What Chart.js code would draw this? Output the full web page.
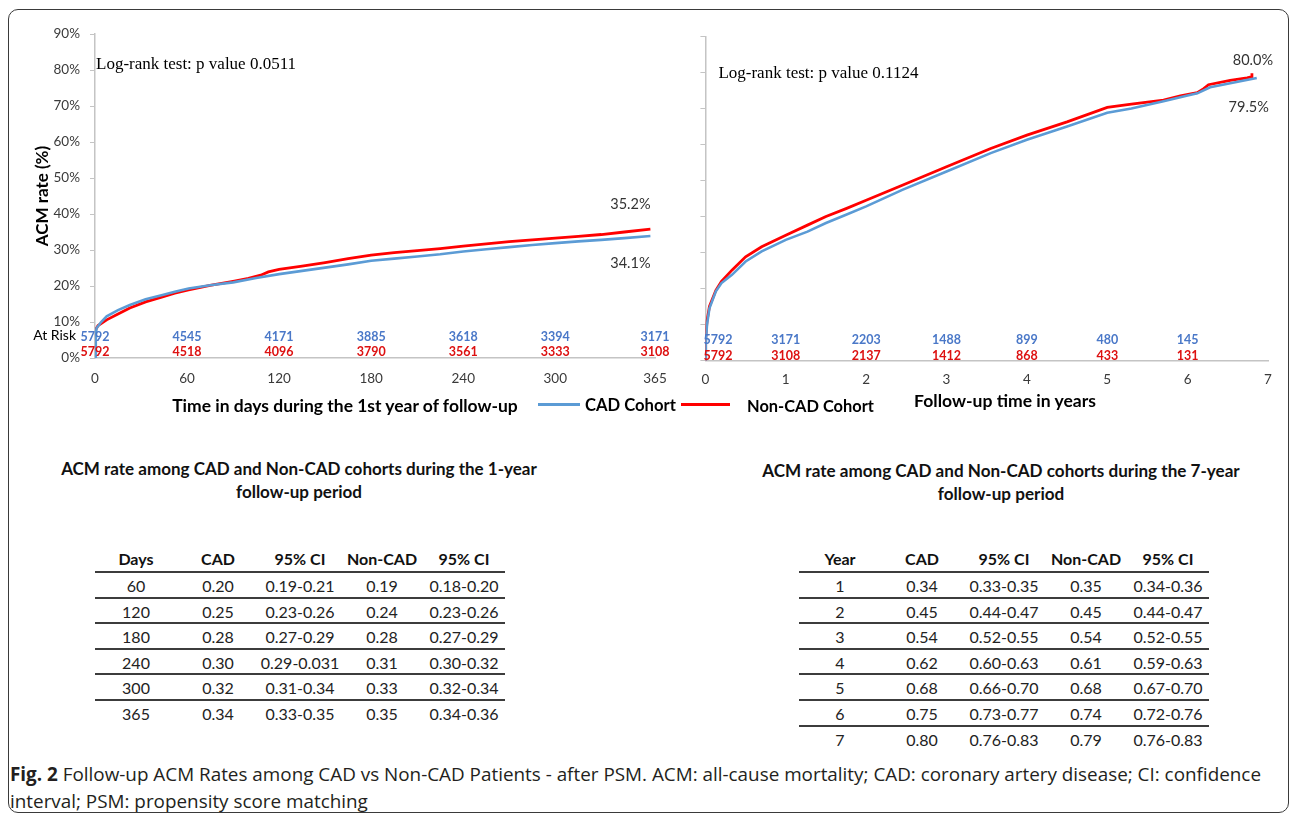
<!DOCTYPE html>
<html><head><meta charset="utf-8">
<script src="https://cdn.jsdelivr.net/npm/chart.js@4.4.0/dist/chart.umd.min.js"></script>
<style>
html,body{margin:0;padding:0;background:#fff;}
body{width:1296px;height:816px;position:relative;overflow:hidden;font-family:Lato,sans-serif;color:#111;}
.abs{position:absolute;white-space:nowrap;}
.c{transform:translate(-50%,-50%);}
.l{transform:translateY(-50%);}
#frame{position:absolute;left:8px;top:9px;width:1281px;height:804px;box-sizing:border-box;border:1.5px solid #3a3a3a;border-radius:10px;pointer-events:none;}
canvas{position:absolute;top:0;}
table{position:absolute;border-collapse:separate;border-spacing:0;font-family:Lato,sans-serif;font-size:16px;color:#222;table-layout:fixed;}
td,th{padding:0;text-align:center;width:82px;white-space:nowrap;}
th{height:24px;line-height:24px;font-weight:700;color:#111;border-bottom:2px solid #3c3c3c;}
td{height:21.6px;line-height:21.6px;padding-top:2px;}
tr.sep td{border-bottom:2px solid #3c3c3c;}
.bold{font-weight:700;}
.ttl{font-weight:700;font-size:16px;color:#111;}
#cap1,#cap2{font-family:"Open Sans",sans-serif;font-size:17px;color:#231f20;}
</style></head>
<body>
<canvas id="c1" width="690" height="420" style="left:0px"></canvas>
<canvas id="c2" width="606" height="420" style="left:690px"></canvas>

<div class="abs c bold" id="xt1" style="left:345px;top:405px;font-size:16px;color:#000">Time in days during the 1st year of follow-up</div>
<div class="abs" style="left:538px;top:403px;width:42px;height:3px;background:#5B9BD5"></div>
<div class="abs l bold" id="lg1" style="left:585px;top:405px;font-size:16.5px;color:#000">CAD Cohort</div>
<div class="abs" style="left:681px;top:403px;width:49px;height:3px;background:#FF0000"></div>
<div class="abs l bold" id="lg2" style="left:747px;top:405px;font-size:16.5px;color:#000">Non-CAD Cohort</div>
<div class="abs c bold" id="xt2" style="left:1005px;top:400px;font-size:16px;color:#000">Follow-up time in years</div>

<div class="abs c ttl" id="t1a" style="left:299px;top:468px">ACM rate among CAD and Non-CAD cohorts during the 1-year</div>
<div class="abs c ttl" id="t1b" style="left:299px;top:491px">follow-up period</div>
<div class="abs c ttl" id="t2a" style="left:1001px;top:470px">ACM rate among CAD and Non-CAD cohorts during the 7-year</div>
<div class="abs c ttl" id="t2b" style="left:1001px;top:493px">follow-up period</div>

<table id="tab1" style="left:95px;top:547px;width:410px"></table>
<table id="tab2" style="left:799px;top:547px;width:410px"></table>

<div class="abs l" id="cap1" style="left:10px;top:774px"><b>Fig. 2</b> Follow-up ACM Rates among CAD vs Non-CAD Patients - after PSM. ACM: all-cause mortality; CAD: coronary artery disease; CI: confidence</div>
<div class="abs l" id="cap2" style="left:10px;top:801px">interval; PSM: propensity score matching</div>

<div id="frame"></div>

<script>
// ---------- 1-year follow-up curves (days, ACM %) ----------
const cadDays      = [0,0.5,1,4,7.6,15,22.7,33,44,52,61,75,90,105,120,135,150,165,180,195,210,225,240,255,270,285,300,315,330,345,362];
const cadRate1y    = [0,6,8.3,10,11.6,13.3,14.7,16.3,17.5,18.4,19.3,20.2,21,22.2,23.3,24.2,25.1,26,27,27.6,28.2,28.8,29.6,30.2,30.8,31.4,31.9,32.4,32.8,33.3,33.9];
const nonCadDays   = [0,0.3,2,7.6,15,22.7,33,44,52,61,75,90,100,108,113,120,135,150,165,180,195,210,225,240,255,270,285,300,315,330,345,362];
const nonCadRate1y = [0,7.8,9,10.6,12.2,13.9,15.6,17,18,18.9,20.2,21.3,22.1,23,23.9,24.6,25.5,26.5,27.6,28.6,29.3,29.8,30.4,31.1,31.7,32.3,32.8,33.3,33.8,34.3,35,35.8];

// ---------- 7-year follow-up curves (years, ACM %) ----------
const cadYears     = [0,0.005,0.02,0.05,0.13,0.2,0.33,0.5,0.7,1.0,1.27,1.5,1.75,2.0,2.45,3.0,3.55,4.0,4.5,5.0,5.3,5.7,6.0,6.12,6.28,6.53,6.86];
const cadRate7y    = [0,5,10,14.5,19.2,21.5,23.8,27.5,30.3,33.5,35.8,38.2,40.5,42.8,47.4,52.5,57.6,61.3,65,68.8,70,72,73.6,74.2,75.9,77,78.5];
const nonCadYears  = [0,0.003,0.02,0.05,0.13,0.2,0.33,0.5,0.7,1.0,1.27,1.5,1.75,2.0,2.45,3.0,3.55,4.0,4.5,5.0,5.3,5.7,5.91,6.12,6.2,6.26,6.53,6.74,6.79,6.8];
const nonCadRate7y = [0,6,11,15,19.5,22,25.1,28.8,31.6,34.8,37.6,40,42.2,44.5,48.7,53.8,58.9,62.6,66.3,70.3,71.2,72.3,73.5,74.4,75.5,76.6,77.8,78.5,78.8,79.8];

// ---------- axis ticks and at-risk numbers ----------
const dayTicks       = [0,60,120,180,240,300,365];
const cadAtRisk1y    = [5792,4545,4171,3885,3618,3394,3171];
const nonCadAtRisk1y = [5792,4518,4096,3790,3561,3333,3108];
const yearTicks      = [0,1,2,3,4,5,6,7];
const riskYears      = [0,1,2,3,4,5,6];
const cadAtRisk7y    = [5792,3171,2203,1488,899,480,145];
const nonCadAtRisk7y = [5792,3108,2137,1412,868,433,131];
const yTicks         = [0,10,20,30,40,50,60,70,80,90];

// ---------- text annotations ----------
const logRank1y = 'Log-rank test: p value 0.0511';
const logRank7y = 'Log-rank test: p value 0.1124';
const endCad1y = '34.1%', endNonCad1y = '35.2%';
const endCad7y = '79.5%', endNonCad7y = '80.0%';

// ---------- tables ----------
const tab1Head = ['Days','CAD','95% CI','Non-CAD','95% CI'];
const days1    = ['60','120','180','240','300','365'];
const cad1     = ['0.20','0.25','0.28','0.30','0.32','0.34'];
const cadCi1   = ['0.19-0.21','0.23-0.26','0.27-0.29','0.29-0.031','0.31-0.34','0.33-0.35'];
const non1     = ['0.19','0.24','0.28','0.31','0.33','0.35'];
const nonCi1   = ['0.18-0.20','0.23-0.26','0.27-0.29','0.30-0.32','0.32-0.34','0.34-0.36'];
const tab2Head = ['Year','CAD','95% CI','Non-CAD','95% CI'];
const years7   = ['1','2','3','4','5','6','7'];
const cad7     = ['0.34','0.45','0.54','0.62','0.68','0.75','0.80'];
const cadCi7   = ['0.33-0.35','0.44-0.47','0.52-0.55','0.60-0.63','0.66-0.70','0.73-0.77','0.76-0.83'];
const non7     = ['0.35','0.45','0.54','0.61','0.68','0.74','0.79'];
const nonCi7   = ['0.34-0.36','0.44-0.47','0.52-0.55','0.59-0.63','0.67-0.70','0.72-0.76','0.76-0.83'];

function buildTable(id, head, cols){
  let h = '<tr>' + head.map(t=>'<th>'+t+'</th>').join('') + '</tr>';
  const n = cols[0].length;
  for(let i=0;i<n;i++){
    h += '<tr'+(i<n-1?' class="sep"':'')+'>' + cols.map(c=>'<td>'+c[i]+'</td>').join('') + '</tr>';
  }
  document.getElementById(id).innerHTML = h;
}
buildTable('tab1', tab1Head, [days1,cad1,cadCi1,non1,nonCi1]);
buildTable('tab2', tab2Head, [years7,cad7,cadCi7,non7,nonCi7]);

function fitTo(id, w){
  const el = document.getElementById(id);
  const cur = el.getBoundingClientRect().width;
  const fs = parseFloat(getComputedStyle(el).fontSize);
  const nfs = fs*w/cur;
  el.style.fontSize = nfs+'px';
  return nfs;
}
fitTo('xt1',346); fitTo('xt2',182); fitTo('lg1',91); fitTo('lg2',127);
let f = fitTo('t1a',476); document.getElementById('t1b').style.fontSize=f+'px';
f = fitTo('t2a',478); document.getElementById('t2b').style.fontSize=f+'px';
f = fitTo('cap1',1252); document.getElementById('cap2').style.fontSize=f+'px';

const BLUE='#5B9BD5', RED='#FF0000', AXIS='#c4c4c4';

function annot(o){
  return { id:'annot'+o.key, afterDatasetsDraw(chart){
    const {ctx, chartArea:ca, scales:{x,y}} = chart;
    ctx.save();
    ctx.textBaseline='middle';
    ctx.font='17px "Liberation Serif"'; ctx.fillStyle='#000'; ctx.textAlign='left';
    ctx.fillText(o.logRank, ca.left+o.lrDx, y.getPixelForValue(o.lrY));
    ctx.font='bold 12.5px Lato';
    o.riskX.forEach((t,i)=>{
      const px = x.getPixelForValue(t);
      const first = (i===0 && o.firstLeft);
      ctx.textAlign = first ? 'left' : 'center';
      const xx = first ? px-2 : px;
      ctx.fillStyle='#4A78C8'; ctx.fillText(String(o.cadRisk[i]), xx, ca.bottom-o.cadOff);
      ctx.fillStyle='#DD1111'; ctx.fillText(String(o.nonRisk[i]), xx, ca.bottom-o.nonOff);
    });
    ctx.font='14.5px Lato'; ctx.fillStyle='#333'; ctx.textAlign='center';
    const m0 = chart.getDatasetMeta(0).data, m1 = chart.getDatasetMeta(1).data;
    const pb = m0[m0.length-1], pr = m1[m1.length-1];
    ctx.fillText(o.nonEnd, pr.x+o.nonDx, pr.y+o.nonDy);
    ctx.fillText(o.cadEnd, pb.x+o.cadDx, pb.y+o.cadDy);
    if(o.atRisk){
      ctx.font='14px Lato'; ctx.fillStyle='#000'; ctx.textAlign='right';
      ctx.fillText('At Risk', ca.left-19, ca.bottom-23);
    }
    ctx.restore();
  }};
}

function pts(xs, ys){ return xs.map((v,i)=>({x:v, y:ys[i]})); }

function datasets(cx, cy, nx, ny){
  return [
    {label:'CAD Cohort', data:pts(cx,cy), borderColor:BLUE, backgroundColor:BLUE, borderWidth:2.6, pointRadius:0, tension:0},
    {label:'Non-CAD Cohort', data:pts(nx,ny), borderColor:RED, backgroundColor:RED, borderWidth:2.8, pointRadius:0, tension:0}
  ];
}

const tickFont = {family:'Lato', size:13.5};

new Chart(document.getElementById('c1'), {
  type:'line',
  data:{datasets:datasets(cadDays,cadRate1y,nonCadDays,nonCadRate1y)},
  options:{
    responsive:false, animation:false, events:[],
    layout:{padding:{left:0,top:34,right:35,bottom:0}},
    plugins:{legend:{display:false}, tooltip:{enabled:false}},
    scales:{
      x:{type:'linear', min:0, max:365,
         afterBuildTicks:s=>{ s.ticks = dayTicks.map(v=>({value:v})); },
         afterFit:s=>{ s.height = 62; },
         grid:{display:false, drawTicks:false},
         border:{display:true, color:AXIS, width:1.5},
         ticks:{autoSkip:false, maxRotation:0, padding:13, font:tickFont, color:'#3a3a3a'}},
      y:{min:0, max:90,
         afterBuildTicks:s=>{ s.ticks = yTicks.map(v=>({value:v})); },
         afterFit:s=>{ s.width = 95; },
         grid:{display:true, drawOnChartArea:false, drawTicks:true, tickLength:5, color:AXIS},
         border:{display:true, color:AXIS, width:1.5},
         ticks:{padding:10, callback:v=>v+'%', font:tickFont, color:'#3a3a3a'},
         title:{display:true, text:'ACM rate (%)', font:{family:'Lato', size:17, weight:'bold'}, color:'#000', padding:{top:32.5, bottom:0}}}
    }
  },
  plugins:[annot({key:1, logRank:logRank1y, lrDx:1, lrY:81.4,
    riskX:dayTicks, cadRisk:cadAtRisk1y, nonRisk:nonCadAtRisk1y, cadOff:21, nonOff:6, firstLeft:false,
    nonEnd:endNonCad1y, nonDx:-20, nonDy:-25, cadEnd:endCad1y, cadDx:-20, cadDy:27, atRisk:true})]
});

new Chart(document.getElementById('c2'), {
  type:'line',
  data:{datasets:datasets(cadYears,cadRate7y,nonCadYears,nonCadRate7y)},
  options:{
    responsive:false, animation:false, events:[],
    layout:{padding:{left:0,top:36.5,right:28,bottom:0}},
    plugins:{legend:{display:false}, tooltip:{enabled:false}},
    scales:{
      x:{type:'linear', min:0, max:7,
         afterBuildTicks:s=>{ s.ticks = yearTicks.map(v=>({value:v})); },
         afterFit:s=>{ s.height = 59.5; },
         grid:{display:false, drawTicks:false},
         border:{display:true, color:AXIS, width:1.5},
         ticks:{autoSkip:false, maxRotation:0, padding:11.5, font:tickFont, color:'#3a3a3a'}},
      y:{min:0, max:90,
         afterBuildTicks:s=>{ s.ticks = yTicks.map(v=>({value:v})); },
         afterFit:s=>{ s.width = 12.5; },
         grid:{display:true, drawOnChartArea:false, drawTicks:true, tickLength:5, color:AXIS},
         border:{display:true, color:AXIS, width:1.5},
         ticks:{display:false}}
    }
  },
  plugins:[annot({key:2, logRank:logRank7y, lrDx:13, lrY:79.6,
    riskX:riskYears, cadRisk:cadAtRisk7y, nonRisk:nonCadAtRisk7y, cadOff:20.5, nonOff:4.5, firstLeft:true,
    nonEnd:endNonCad7y, nonDx:1, nonDy:-13, cadEnd:endCad7y, cadDx:-8, cadDy:29, atRisk:false})]
});
</script>
</body></html>
